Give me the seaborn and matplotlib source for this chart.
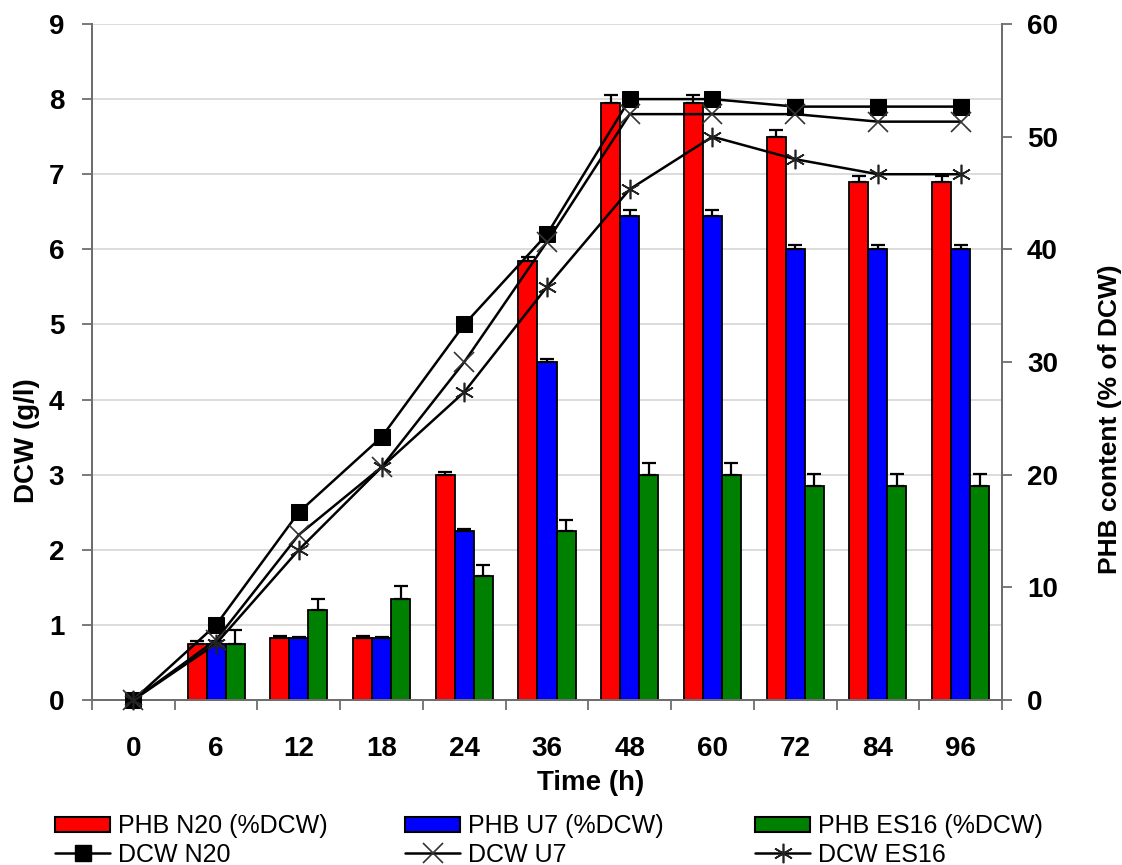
import numpy as np
import pandas as pd
import matplotlib
matplotlib.use("Agg")
import matplotlib.pyplot as plt
import seaborn as sns
from matplotlib.patches import Patch
from matplotlib.lines import Line2D

# ---------------- data ----------------
times = ["0", "6", "12", "18", "24", "36", "48", "60", "72", "84", "96"]
strains = ["N20", "U7", "ES16"]

phb_n20 = [0, 5, 5.5, 5.5, 20, 39, 53, 53, 50, 46, 46]
phb_u7 = [0, 5, 5.5, 5.5, 15, 30, 43, 43, 40, 40, 40]
phb_es16 = [0, 5, 8, 9, 11, 15, 20, 20, 19, 19, 19]

err_n20 = [0, 0.2, 0.2, 0.2, 0.2, 0.3, 0.7, 0.7, 0.6, 0.5, 0.5]
err_u7 = [0, 0.2, 0.1, 0.1, 0.2, 0.3, 0.5, 0.5, 0.35, 0.35, 0.35]
err_es16 = [0, 1.2, 1.0, 1.1, 1.0, 1.0, 1.0, 1.0, 1.1, 1.1, 1.1]

dcw_n20 = [0, 1.0, 2.5, 3.5, 5.0, 6.2, 8.0, 8.0, 7.9, 7.9, 7.9]
dcw_u7 = [0, 0.8, 2.2, 3.1, 4.5, 6.1, 7.8, 7.8, 7.8, 7.7, 7.7]
dcw_es16 = [0, 0.75, 2.0, 3.1, 4.1, 5.5, 6.8, 7.5, 7.2, 7.0, 7.0]

bar_labels = ["PHB N20 (%DCW)", "PHB U7 (%DCW)", "PHB ES16 (%DCW)"]
line_labels = ["DCW N20", "DCW U7", "DCW ES16"]
left_ticks = list(range(0, 10))
right_ticks = list(range(0, 61, 10))

# ---------------- style ----------------
sns.set_style("white")
plt.rcParams["font.family"] = ["Liberation Sans", "DejaVu Sans"]
plt.rcParams["text.color"] = "black"
plt.rcParams["xtick.labelcolor"] = "black"
plt.rcParams["ytick.labelcolor"] = "black"

bar_colors = ["#ff0000", "#0000ff", "#008000"]
axis_gray = "#6e6e6e"
grid_gray = "#d9d9d9"

W, H = 1122, 865
fig = plt.figure(figsize=(W / 100, H / 100), dpi=100)
x0, x1, y_top, y_bot = 92, 1002, 24, 700
ax = fig.add_axes([x0 / W, 1 - y_bot / H, (x1 - x0) / W, (y_bot - y_top) / H])

# bars (PHB, right axis)
df = pd.DataFrame({
    "Time": times * 3,
    "PHB": phb_n20 + phb_u7 + phb_es16,
    "Strain": sum([[s] * len(times) for s in strains], []),
})
sns.barplot(data=df, x="Time", y="PHB", hue="Strain", order=times, hue_order=strains,
            palette=bar_colors, saturation=1, edgecolor="black", linewidth=1.3,
            width=0.69, gap=0, errorbar=None, legend=False, ax=ax, zorder=2)

# error bars (plus direction only)
for cont, errs in zip(ax.containers, [err_n20, err_u7, err_es16]):
    xs, ys, es = [], [], []
    for bar, e in zip(cont, errs):
        if e > 0:
            xs.append(bar.get_x() + bar.get_width() / 2)
            ys.append(bar.get_height())
            es.append(e)
    ax.errorbar(xs, ys, yerr=[np.zeros(len(es)), es], fmt="none", ecolor="black",
                elinewidth=1.6, capsize=5, capthick=1.6, zorder=3)

ax.set_ylim(0, 60)
ax.set_xlim(-0.5, len(times) - 0.5)
# gridlines at the DCW (left-axis) integer levels
for k in left_ticks[1:]:
    ax.axhline(k * 60 / 9, color=grid_gray, lw=1.3, zorder=0)
ax.set_ylabel("")
ax.set_xlabel("")

# lines (DCW, left axis)
ax2 = ax.twinx()
xpos = np.arange(len(times))
asterisk = (6, 2, 0)
line_styles = [
    dict(marker="s", markersize=11, markerfacecolor="black", markeredgecolor="black"),
    dict(marker="x", markersize=14, markeredgewidth=1.2, markeredgecolor="#333333"),
    dict(marker=asterisk, markersize=14, markeredgewidth=1.2, markeredgecolor="#222222"),
]
for vals, st in zip([dcw_n20, dcw_u7, dcw_es16], line_styles):
    sns.lineplot(x=xpos, y=vals, ax=ax2, color="black", lw=1.8, clip_on=False,
                 zorder=5, **st)
ax2.set_ylim(0, 9)
ax2.set_xlim(-0.5, len(times) - 0.5)
ax2.set_ylabel("")

# right axis for bars
ax.yaxis.tick_right()
ax.set_yticks(right_ticks)
ax.tick_params(axis="y", which="major", direction="out", length=7, width=1.3,
               color=axis_gray, right=True, left=False, labelright=True, labelleft=False,
               labelsize=20, pad=11)
# left axis for lines
ax2.yaxis.tick_left()
ax2.set_yticks(left_ticks)
ax2.tick_params(axis="y", which="major", direction="out", length=7, width=1.3,
                color=axis_gray, left=True, right=False, labelleft=True, labelright=False,
                labelsize=20, pad=13)

# category boundary ticks + centered labels
ax.set_xticks(np.arange(-0.5, len(times), 1))
ax.set_xticklabels([])
ax.set_xticks(np.arange(len(times)), labels=times, minor=True)
ax.tick_params(axis="x", which="major", direction="out", length=7, width=1.3,
               color=axis_gray, bottom=True)
ax.tick_params(axis="x", which="minor", length=0, pad=26, labelsize=20)

for lab in ax.get_xticklabels(minor=True) + ax.get_yticklabels() + ax2.get_yticklabels():
    lab.set_fontweight("bold")

for a in (ax, ax2):
    a.spines["top"].set_visible(False)
    for s in ("left", "right", "bottom"):
        a.spines[s].set_color(axis_gray)
        a.spines[s].set_linewidth(1.4)

# axis titles
fig.text(27 / W, 1 - 441 / H, "DCW (g/l)", rotation=90, ha="center", va="center",
         fontsize=20, fontweight="bold")
fig.text(1110 / W, 1 - 419 / H, "PHB content (% of DCW)", rotation=90, ha="center",
         va="center", fontsize=19, fontweight="bold")
fig.text(591 / W, 1 - 783 / H, "Time (h)", ha="center", va="center",
         fontsize=20, fontweight="bold")

# legend: three columns
col_x = [55, 405, 755]
for i in range(3):
    handles = [
        Patch(facecolor=bar_colors[i], edgecolor="black", linewidth=1.5),
        Line2D([0], [0], color="black", lw=1.8, **line_styles[i]),
    ]
    fig.legend(handles, [bar_labels[i], line_labels[i]], loc="upper left",
               bbox_to_anchor=(col_x[i] / W, 1 - 814 / H), frameon=False,
               fontsize=18, handlelength=2.2, handleheight=0.55, handletextpad=0.33,
               labelspacing=0.18, borderpad=0, borderaxespad=0)

fig.savefig("out.png", dpi=100)
